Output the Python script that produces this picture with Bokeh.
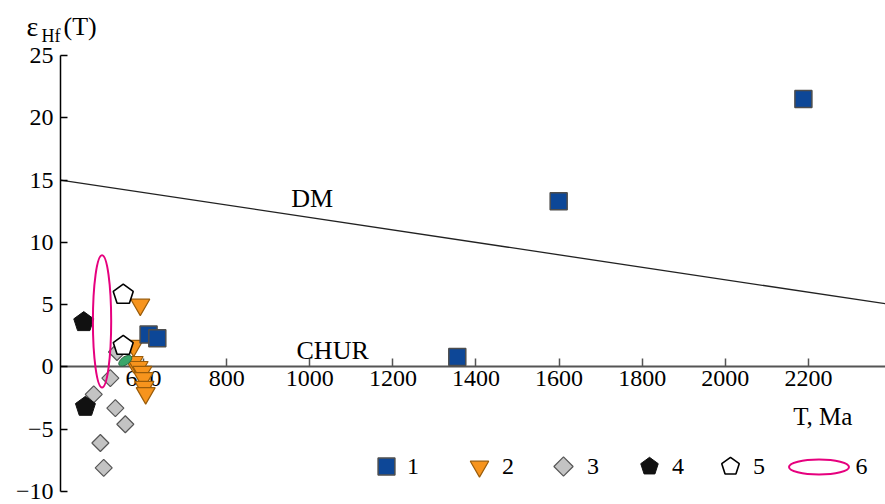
import math
from bokeh.plotting import figure
from bokeh.models import Range1d, FixedTicker, Label, Legend, LegendItem
from bokeh.embed import file_html
from bokeh.resources import INLINE

SERIF = "Liberation Serif"

# ---- data ----
# 1: blue squares
T1 = [612, 633, 1355, 1599, 2188]
E1 = [2.6, 2.3, 0.8, 13.3, 21.5]
# 2: orange inverted triangles
T2 = [592, 576, 576, 588, 597, 600, 602, 605]
E2 = [5.0, 1.7, 0.4, 0.0, -0.4, -0.9, -1.6, -2.1]
# 3: grey diamonds
T3 = [536, 520, 480, 532, 556, 496, 504]
E3 = [1.2, -0.9, -2.2, -3.3, -4.6, -6.1, -8.1]
# 4: black pentagons
T4 = [456, 460]
E4 = [3.6, -3.2]
# 5: white pentagons
T5 = [551, 551]
E5 = [5.8, 1.7]
# extra green point
TG = [556]
EG = [0.5]
# 6: ellipse (centre, width in Ma, height in eps units)
ELL_T = [500]
ELL_E = [3.66]
ELL_W = [44]
ELL_H = [10.6]
# DM reference line
DM_T = [400, 2400]
DM_E = [15, 5]

X_TICKS = [600, 800, 1000, 1200, 1400, 1600, 1800, 2000, 2200]
Y_TICKS = [-10, -5, 0, 5, 10, 15, 20, 25]
LEGEND_LABELS = ["1", "2", "3", "4", "5", "6"]

BLUE = "#0d4797"
ORANGE = "#f7941d"
GREY = "#c3c3c3"
MAGENTA = "#e6007e"

# frame = whole canvas; axes are pinned at T=400 and eps=0
p = figure(width=885, height=504, output_backend="svg", toolbar_location=None,
           x_range=Range1d(255.6, 2385.6), y_range=Range1d(-11.04, 29.415),
           min_border_left=0, min_border_right=0, min_border_top=0,
           min_border_bottom=0, background_fill_color="white",
           border_fill_color="white")
p.grid.visible = False
p.outline_line_color = None

xa = p.xaxis[0]
xa.fixed_location = 0
xa.bounds = (400, 2385.6)
xa.ticker = FixedTicker(ticks=X_TICKS)
xa.axis_line_color = "#555555"
xa.axis_line_width = 2
xa.major_tick_line_color = "#555555"
xa.major_tick_line_width = 1.5
xa.major_tick_in = 8
xa.major_tick_out = 0
xa.minor_tick_line_color = None
xa.major_label_text_font = SERIF
xa.major_label_text_font_size = "24px"
xa.major_label_text_color = "black"
xa.major_label_standoff = 4

ya = p.yaxis[0]
ya.fixed_location = 400
ya.bounds = (-10, 25)
ya.ticker = FixedTicker(ticks=Y_TICKS)
ya.major_label_overrides = {t: (str(t).replace("-", "\u2212")) for t in Y_TICKS}
ya.axis_line_color = "black"
ya.axis_line_width = 1.5
ya.major_tick_line_color = "black"
ya.major_tick_line_width = 1.5
ya.major_tick_in = 7
ya.major_tick_out = 0
ya.minor_tick_line_color = None
ya.major_label_text_font = SERIF
ya.major_label_text_font_size = "24px"
ya.major_label_text_color = "black"
ya.major_label_standoff = 7

# DM line
p.line(DM_T, DM_E, line_color="#222222", line_width=1.3)

# markers
r3 = p.ngon(T3, E3, radius=8.5, radius_units="screen", n=4, angle=0,
            fill_color=GREY, line_color="#555555", line_width=1.2, level="annotation")
r2 = p.scatter(T2, E2, marker="inverted_triangle", size=19,
               fill_color=ORANGE, line_color="#9a5c0a", line_width=1.2, level="annotation")
rg = p.ellipse(TG, EG, width=15, height=8, width_units="screen", height_units="screen",
               angle=math.radians(35), fill_color="#3aa66a", line_color="#2b6b47",
               line_width=1, level="annotation")
r1 = p.scatter(T1, E1, marker="square", size=17,
               fill_color=BLUE, line_color="#4d4d4d", line_width=1.5, level="annotation")
r4 = p.ngon(T4, E4, radius=10.5, radius_units="screen", n=5, angle=0,
            fill_color="#111111", line_color="#111111", line_width=1, level="annotation")
r5 = p.ngon(T5, E5, radius=10.5, radius_units="screen", n=5, angle=0,
            fill_color="white", line_color="black", line_width=1.6, level="annotation")
r6 = p.ellipse(ELL_T, ELL_E, width=ELL_W, height=ELL_H, fill_color=None,
               line_color=MAGENTA, line_width=2, level="annotation")
# legend-only ellipse (horizontal)
r6l = p.ellipse([float("nan")], [float("nan")], width=60, height=15,
                width_units="screen", height_units="screen", fill_color=None,
                line_color=MAGENTA, line_width=2)

# text labels
def lab(x, y, text, size, align="center", xo=0, yo=0, baseline="middle"):
    p.add_layout(Label(x=x, y=y, text=text, x_offset=xo, y_offset=yo,
                       text_font=SERIF, text_font_size=size, text_align=align,
                       text_baseline=baseline, text_color="black"))

lab(1006, 13.5, "DM", "26px")
lab(1055, 1.34, "CHUR", "26px")
lab(2306, -3.95, "T, Ma", "25px", align="right")
lab(400, 25, "\u03b5", "28px", align="left", xo=-34, yo=29)
lab(400, 25, "Hf", "18px", align="left", xo=-19, yo=20)
lab(400, 25, "(T)", "26px", align="left", xo=3, yo=29)

# legends: (renderer, centre x on page, glyph box size)
leg_specs = [
    (r1, 386, 42),
    (r2, 479, 46),
    (r3, 563, 48),
    (r4, 649, 46),
    (r5, 730, 46),
    (r6l, 818, 75),
]
for (rend, cx, g), txt in zip(leg_specs, LEGEND_LABELS):
    leg = Legend(items=[LegendItem(label=txt, renderers=[rend])],
                 location=(cx - g / 2, 38 - g / 2), orientation="horizontal",
                 glyph_width=g, glyph_height=g, label_standoff=0,
                 padding=0, margin=0, spacing=0, border_line_color=None,
                 background_fill_alpha=0, label_text_font=SERIF,
                 label_text_font_size="24px", label_text_color="black")
    p.add_layout(leg)

open("out.html", "w").write(file_html(p, INLINE))
